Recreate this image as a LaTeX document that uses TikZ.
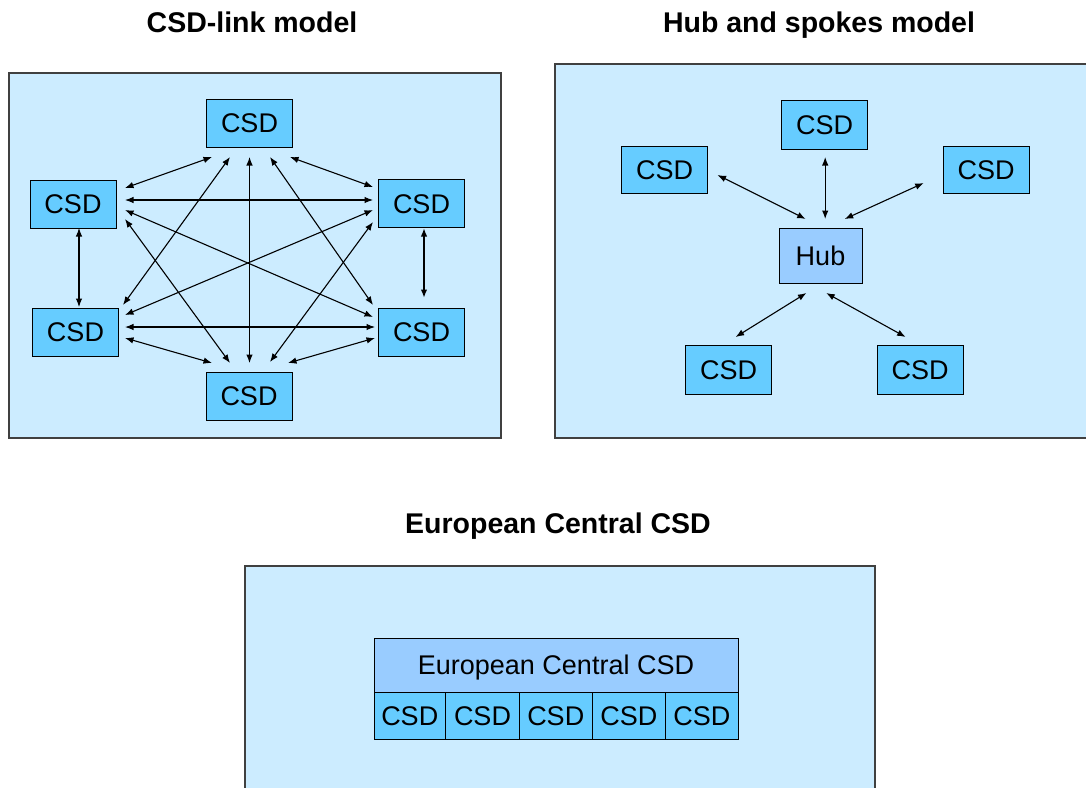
\documentclass[tikz,border=0pt]{standalone}
\usepackage{fontspec}
\setmainfont{Liberation Sans}
\usetikzlibrary{arrows.meta}
\definecolor{panelfill}{HTML}{CCECFF}
\definecolor{csdfill}{HTML}{66CCFF}
\definecolor{hubfill}{HTML}{99CCFF}
\definecolor{panelline}{HTML}{404040}
\tikzset{
  panel/.style={draw=panelline, line width=1.3pt, fill=panelfill},
  boxtext/.style={font=\fontsize{27}{30}\selectfont, text height=19pt, text depth=0pt, inner sep=0pt},
  csd/.style={boxtext, draw=black, line width=1pt, fill=csdfill, minimum width=86pt, minimum height=48pt},
  hubbox/.style={boxtext, draw=black, line width=1pt, fill=hubfill},
  cell/.style={boxtext, draw=black, line width=1pt, fill=csdfill, minimum height=46.5pt},
  title/.style={font=\fontsize{28.5}{32}\selectfont\bfseries, text height=20.5pt, text depth=0pt, inner sep=0pt},
  arr/.style={line width=1.1pt, {Latex[length=8.5pt,width=6.5pt]}-{Latex[length=8.5pt,width=6.5pt]}},
}
\begin{document}
\begin{tikzpicture}[x=1pt, y=-1pt]
\useasboundingbox (0,0) rectangle (1086,787);
\fill[white] (0,0) rectangle (1086,787);

% titles
\node[title] (t1) at (252,22) {CSD-link model};
\node[title] (t2) at (819,22) {Hub and spokes model};
\node[title] (t3) at (558,523) {European Central CSD};

% panels
\draw[panel] (9,73) rectangle (501,438);
\draw[panel] (555,64) rectangle (1096,438);
\draw[panel] (245,566) rectangle (875,800);

% ---- CSD-link model: every pair of CSDs linked ----
\node[csd] (t)  at (249.5,123) {CSD};
\node[csd] (lu) at (73,204) {CSD};
\node[csd] (ru) at (421.5,203.5) {CSD};
\node[csd] (ll) at (75.5,332) {CSD};
\node[csd] (rl) at (421.5,332) {CSD};
\node[csd] (b)  at (249,396) {CSD};

\draw[arr] ([shift={(-37.5,34)}]t.center) -- ([shift={(52,-16)}]lu.center);
\draw[arr] ([shift={(-19.5,34)}]t.center) -- ([shift={(47.5,-27)}]ll.center);
\draw[arr] ([shift={(0,34)}]t.center) -- ([shift={(0.5,-33)}]b.center);
\draw[arr] ([shift={(20.5,34)}]t.center) -- ([shift={(-48.5,-27)}]rl.center);
\draw[arr] ([shift={(40.5,34)}]t.center) -- ([shift={(-48.5,-16.5)}]ru.center);
\draw[arr] ([shift={(52,-4)}]lu.center) -- ([shift={(-48.5,-3.5)}]ru.center);
\draw[arr] ([shift={(52,6)}]lu.center) -- ([shift={(-48.5,-15)}]rl.center);
\draw[arr] ([shift={(52,15)}]lu.center) -- ([shift={(-19,-33)}]b.center);
\draw[arr] ([shift={(49.5,-17)}]ll.center) -- ([shift={(-48.5,6.5)}]ru.center);
\draw[arr] ([shift={(49.5,-5)}]ll.center) -- ([shift={(-46.5,-5)}]rl.center);
% heavier stretch near the right end of the lower horizontal link
\draw[line width=2pt] ([shift={(-98,-5)}]rl.center) -- ([shift={(-54,-5)}]rl.center);
\draw[arr] ([shift={(49.5,6)}]ll.center) -- ([shift={(-37,-33)}]b.center);
\draw[arr] ([shift={(-48.5,18.5)}]ru.center) -- ([shift={(21,-34)}]b.center);
\draw[arr] ([shift={(-46.5,6)}]rl.center) -- ([shift={(39,-33)}]b.center);
\draw[arr] ([shift={(6,24)}]lu.center) -- ([shift={(3.5,-25)}]ll.center);
\draw[arr, line width=2pt] ([shift={(2.5,24.5)}]ru.center) -- ([shift={(2.5,-34)}]rl.center);

% ---- Hub and spokes model ----
\node[csd, minimum width=85.5pt, minimum height=49pt] (hc) at (824.5,124.5) {CSD};
\node[csd, minimum height=47pt] (hl) at (664.5,169.5) {CSD};
\node[csd, minimum height=47pt] (hr) at (986,169.5) {CSD};
\node[hubbox, minimum width=83pt, minimum height=55pt] (hub) at (820.5,255.5) {Hub};
\node[csd, minimum height=49pt] (hbl) at (728.5,369.5) {CSD};
\node[csd, minimum height=49pt] (hbr) at (920,369.5) {CSD};

\draw[arr] ([shift={(53,5.5)}]hl.center) -- ([shift={(-14.8,-36.5)}]hub.center);
\draw[arr] ([shift={(0.7,32.5)}]hc.center) -- ([shift={(4.7,-36.5)}]hub.center);
\draw[arr] ([shift={(-62.3,13.5)}]hr.center) -- ([shift={(24.2,-36.5)}]hub.center);
\draw[arr] ([shift={(-14.1,37.5)}]hub.center) -- ([shift={(7.1,-32.5)}]hbl.center);
\draw[arr] ([shift={(5.7,37.5)}]hub.center) -- ([shift={(-14.4,-32.5)}]hbr.center);

% ---- European Central CSD ----
\node[hubbox, minimum width=364pt, minimum height=54.5pt] (ec) at (556,665.25) {European Central CSD};
\node[cell, minimum width=71.5pt] (c1) at (409.75,715.75) {CSD};
\node[cell, minimum width=74pt]   (c2) at (482.5,715.75) {CSD};
\node[cell, minimum width=72.5pt] (c3) at (555.75,715.75) {CSD};
\node[cell, minimum width=73.5pt] (c4) at (628.75,715.75) {CSD};
\node[cell, minimum width=72.5pt] (c5) at (701.75,715.75) {CSD};
\end{tikzpicture}
\end{document}
